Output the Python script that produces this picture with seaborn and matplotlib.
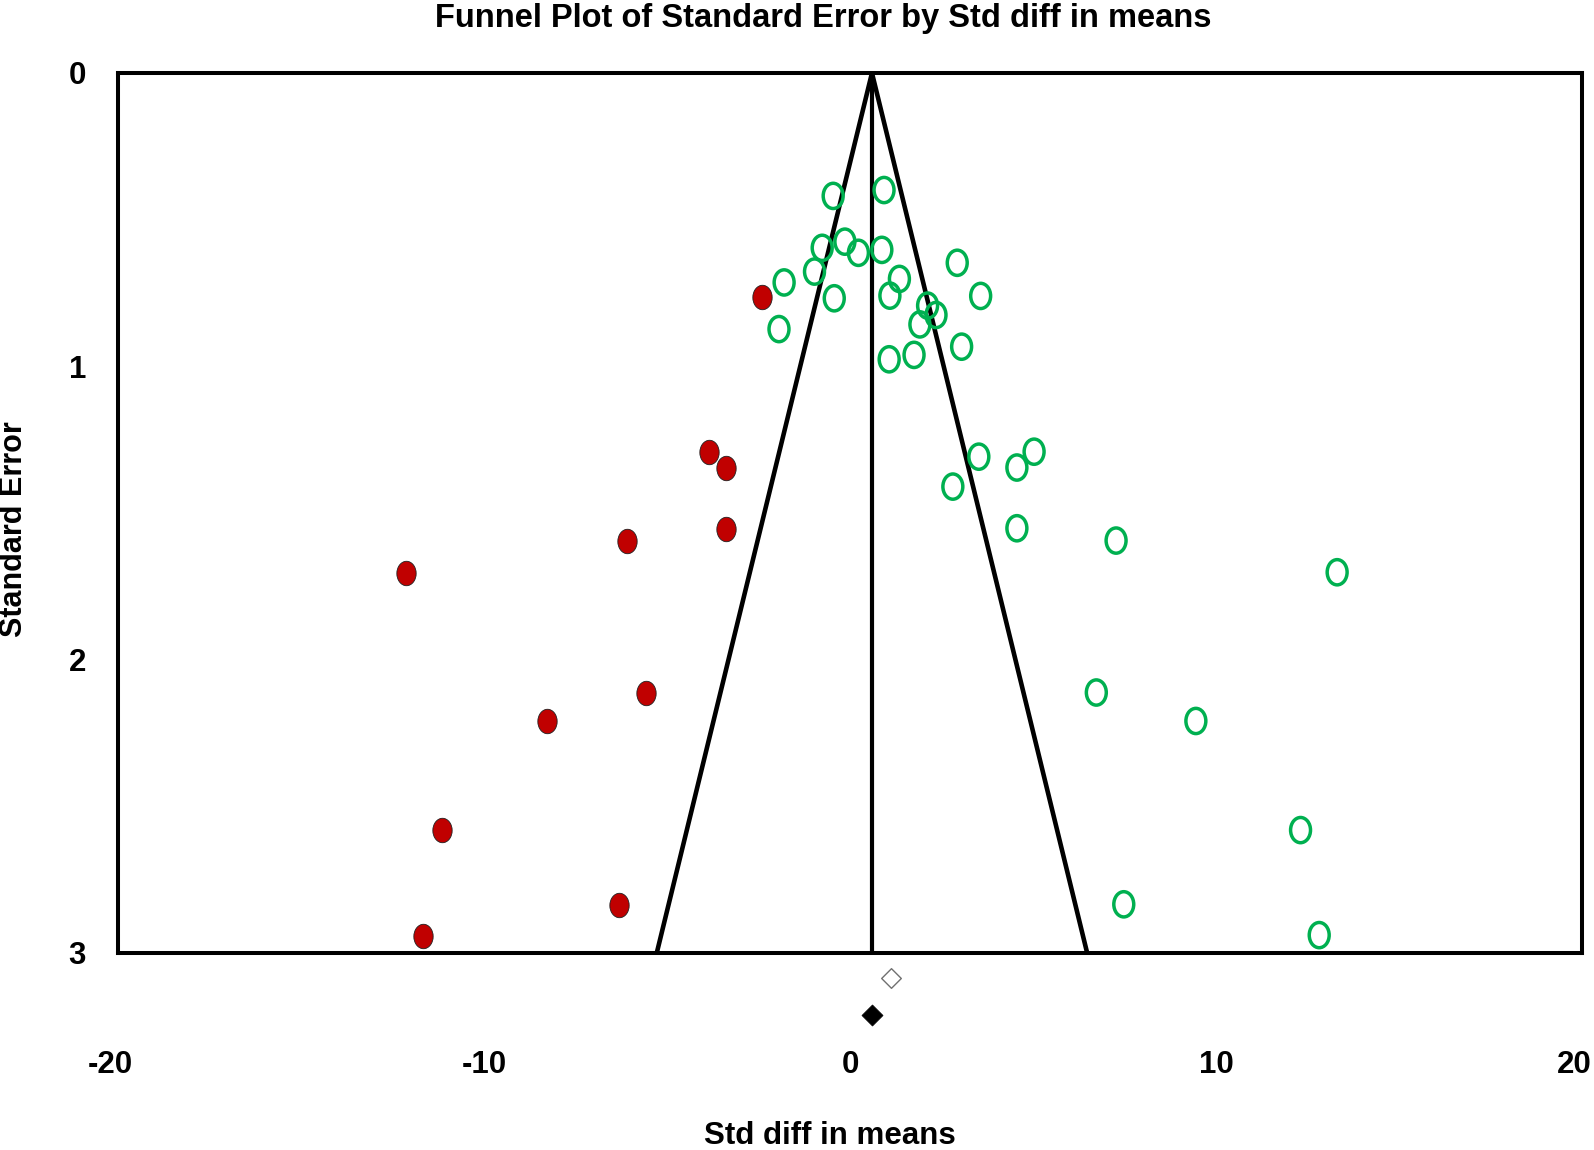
import matplotlib
matplotlib.use("Agg")
import matplotlib.pyplot as plt
from matplotlib.path import Path
from matplotlib.transforms import Affine2D, ScaledTranslation
import numpy as np
import pandas as pd
import seaborn as sns

# observed studies (open green circles)
obs_smd = [-0.46, 0.93, -0.76, -0.14, 0.23, 0.87, -0.97, -1.80, 2.93, 1.35,
           1.09, -0.43, 3.57, 2.12, 2.35, 1.91, -1.94, 3.05, 1.75, 1.07,
           3.52, 5.03, 4.56, 2.81, 4.56, 7.27, 13.31, 6.73, 9.45, 12.31,
           7.48, 12.82]
obs_se = [0.419, 0.399, 0.596, 0.575, 0.613, 0.603, 0.677, 0.714, 0.647, 0.702,
          0.759, 0.768, 0.760, 0.793, 0.825, 0.857, 0.873, 0.933, 0.961, 0.976,
          1.308, 1.291, 1.345, 1.410, 1.552, 1.594, 1.702, 2.112, 2.209, 2.581,
          2.834, 2.939]

# imputed studies (trim and fill, filled red)
imp_smd = [-2.41, -3.85, -3.39, -3.40, -12.14, -6.10, -5.57, -8.29, -11.14,
           -6.32, -11.66]
imp_se = [0.763, 1.293, 1.348, 1.555, 1.704, 1.596, 2.115, 2.209, 2.581,
          2.837, 2.941]

observed_est = 1.12
adjusted_est = 0.60
z = 1.96
se_max = 3

xticks = [-20, -10, 0, 10, 20]
yticks = [0, 1, 2, 3]

obs = pd.DataFrame({"smd": obs_smd, "se": obs_se})
imp = pd.DataFrame({"smd": imp_smd, "se": imp_se})

sns.set_style("white")
plt.rcParams['font.family'] = ['Liberation Sans', 'DejaVu Sans']
plt.rcParams['font.weight'] = 'bold'
plt.rcParams['text.color'] = 'black'
plt.rcParams['xtick.labelcolor'] = 'black'
plt.rcParams['ytick.labelcolor'] = 'black'

fig = plt.figure(figsize=(15.94, 11.5), dpi=100)
ax = fig.add_axes([118/1594, 197/1150, 1464/1594, 880/1150])

# slightly tall ellipse marker
ellipse = Path.unit_circle().transformed(Affine2D().scale(0.79, 1.0))

se_line = np.array([0, se_max])
funnel = pd.DataFrame({
    "x": np.concatenate([adjusted_est - z * se_line[::-1], adjusted_est + z * se_line]),
    "y": np.concatenate([se_line[::-1], se_line]),
})
ax.plot(funnel["x"], funnel["y"], color="black", lw=3.3, solid_joinstyle="miter", zorder=2)
ax.plot([adjusted_est, adjusted_est], se_line, color="black", lw=3.0, zorder=2)

sns.scatterplot(data=obs, x="smd", y="se", marker=ellipse, s=330,
                linewidth=2.5, ax=ax, zorder=3)
ax.collections[-1].set_facecolor("none")
ax.collections[-1].set_edgecolor("#00B050")

sns.scatterplot(data=imp, x="smd", y="se", marker=ellipse, s=310,
                color="#C00000", edgecolor="#202020", linewidth=0.6, ax=ax, zorder=3)

# summary diamonds below the axis
trans = ax.get_xaxis_transform()
ax.scatter([observed_est], [-0.0284], marker="D", s=100, facecolor="white",
           edgecolor="#707070", linewidth=1.0, transform=trans, clip_on=False, zorder=4)
ax.scatter([adjusted_est], [-0.0705], marker="D", s=115, facecolor="black",
           edgecolor="black", linewidth=0.5, transform=trans, clip_on=False, zorder=4)

ax.set_xlim(xticks[0], xticks[-1])
ax.set_ylim(se_max, 0)
ax.set_xticks(xticks)
ax.set_yticks(yticks)
ax.set_xticklabels([str(t) for t in xticks], fontsize=22.5, fontweight="bold")
ax.set_yticklabels([str(t) for t in yticks], fontsize=22.5, fontweight="bold")
ax.tick_params(axis="y", length=0, pad=23, labelcolor="black")
ax.tick_params(axis="x", direction="inout", length=9, width=0.8, color="black",
               pad=65, labelcolor="black")
for tick, val in zip(ax.xaxis.get_major_ticks(), xticks):
    if val in (0, 10):
        tick.tick1line.set_color("red")
        tick.tick1line.set_markeredgewidth(2.5)
    tick.tick2line.set_visible(False)

# end labels sit a little left of their ticks
shift = ScaledTranslation(-8/100, 0, fig.dpi_scale_trans)
for lab, val in zip(ax.get_xticklabels(), xticks):
    if val in (-20, 20):
        lab.set_transform(lab.get_transform() + shift)

for sp in ax.spines.values():
    sp.set_linewidth(2.9)
    sp.set_color("black")

ax.set_xlabel("")
ax.set_ylabel("")
fig.text(830/1594, 1 - 1136/1150, "Std diff in means", ha="center", va="center",
         fontsize=22.5, fontweight="bold", color="black")
fig.text(14/1594, 1 - 529/1150, "Standard Error", ha="center", va="center",
         rotation=90, fontsize=22, fontweight="bold", color="black")
fig.text(823/1594, 1 - 18/1150, "Funnel Plot of Standard Error by Std diff in means",
         ha="center", va="center", fontsize=23.5, fontweight="bold", color="black")

fig.savefig("out.png", dpi=100)
